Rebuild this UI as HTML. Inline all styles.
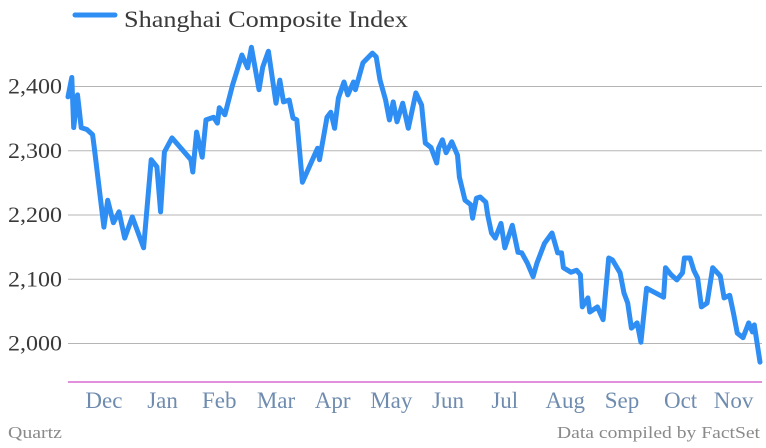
<!DOCTYPE html>
<html><head><meta charset="utf-8"><style>
html,body{margin:0;padding:0;background:#fff;}
svg{display:block;font-family:"Liberation Serif",serif;}
</style></head><body>
<svg id="chart" width="766" height="448">
<g id="grid"></g>
<g id="yticks"></g>
<g id="xticks"></g>
<line x1="68" y1="382" x2="762" y2="382" stroke="#d86bd4" stroke-width="1.5"/>
<g>
<line x1="75" y1="15" x2="115" y2="15" stroke="#2f8ef4" stroke-width="5" stroke-linecap="round"/>
<text x="124" y="27" font-size="23" fill="#3a3a3a" textLength="284" lengthAdjust="spacingAndGlyphs">Shanghai Composite Index</text>
</g>
<path id="line" fill="none" stroke="#2f8ef4" stroke-width="5" stroke-linejoin="round" stroke-linecap="round"/>
<text x="8" y="438" font-size="17" fill="#8a8a8a" textLength="54" lengthAdjust="spacingAndGlyphs">Quartz</text>
<text x="557" y="438" font-size="17" fill="#8a8a8a" textLength="203" lengthAdjust="spacingAndGlyphs">Data compiled by FactSet</text>
</svg>
<script>
const days=[0,2,3,5,6,7,10,13,14,19,21,24,27,30,34,40,44,47,49,51,55,65,66,68,71,73,77,79,80,83,87,92,95,97,101,103,106,110,112,114,117,119,121,124,132,133,137,139,141,143,146,148,151,152,156,161,163,165,168,170,172,174,177,180,184,187,189,192,195,196,198,200,203,206,207,210,213,214,216,218,221,222,224,226,229,231,235,238,240,243,246,248,252,256,259,261,262,266,269,271,272,275,276,280,283,286,288,292,294,296,298,301,303,306,315,316,319,322,325,326,329,331,333,335,338,341,345,347,350,352,354,357,360,362,363,366];
const values=[2384,2414,2336,2387,2363,2336,2333,2325,2302,2181,2223,2188,2205,2164,2197,2149,2286,2275,2205,2298,2320,2286,2267,2329,2290,2348,2352,2343,2367,2356,2402,2449,2429,2461,2395,2430,2455,2374,2410,2376,2379,2351,2348,2251,2304,2286,2352,2360,2335,2382,2407,2387,2407,2395,2437,2452,2446,2410,2379,2348,2376,2345,2374,2335,2390,2371,2312,2305,2281,2304,2317,2297,2314,2293,2259,2223,2216,2195,2226,2228,2220,2200,2172,2164,2187,2149,2184,2142,2141,2125,2104,2125,2156,2172,2141,2141,2118,2111,2114,2107,2057,2071,2049,2057,2037,2133,2130,2110,2079,2063,2024,2032,2002,2086,2072,2118,2107,2099,2110,2133,2133,2114,2102,2057,2063,2118,2105,2071,2075,2047,2016,2009,2032,2018,2029,1971];
const yTicks=[2000,2100,2200,2300,2400];
const yTickLabels=["2,000","2,100","2,200","2,300","2,400"];
const monthDays=[19,50,80,110,140,171,201,231,263,293,324,352];
const monthLabels=["Dec","Jan","Feb","Mar","Apr","May","Jun","Jul","Aug","Sep","Oct","Nov"];

const NS="http://www.w3.org/2000/svg";
function xs(d){return 68+d*(760-68)/366;}
function ys(v){return 343.5-(v-2000)*0.6425;}
const grid=document.getElementById('grid'),yt=document.getElementById('yticks'),xt=document.getElementById('xticks');
yTicks.forEach((v,i)=>{
 const l=document.createElementNS(NS,'line');
 l.setAttribute('x1',68);l.setAttribute('x2',762);l.setAttribute('y1',ys(v));l.setAttribute('y2',ys(v));
 l.setAttribute('stroke','#b5b5b5');l.setAttribute('stroke-width','1');
 
 
 grid.appendChild(l);
 const t=document.createElementNS(NS,'text');
 t.setAttribute('x',8);t.setAttribute('y',ys(v)+7);
 t.setAttribute('font-size','22');t.setAttribute('fill','#3a3a3a');
 t.setAttribute('textLength','54');t.setAttribute('lengthAdjust','spacingAndGlyphs');
 t.textContent=yTickLabels[i];
 
 
 yt.appendChild(t);
});
monthDays.forEach((d,i)=>{
 const t=document.createElementNS(NS,'text');
 t.setAttribute('x',xs(d));t.setAttribute('y',408);t.setAttribute('text-anchor','middle');
 t.setAttribute('font-size','23');t.setAttribute('fill','#6f8caf');
 t.textContent=monthLabels[i];
 
 
 xt.appendChild(t);
});
document.getElementById('line').setAttribute('d',days.map((d,i)=>(i?'L':'M')+xs(d).toFixed(1)+','+ys(values[i]).toFixed(1)).join(''));
</script>
</body></html>
